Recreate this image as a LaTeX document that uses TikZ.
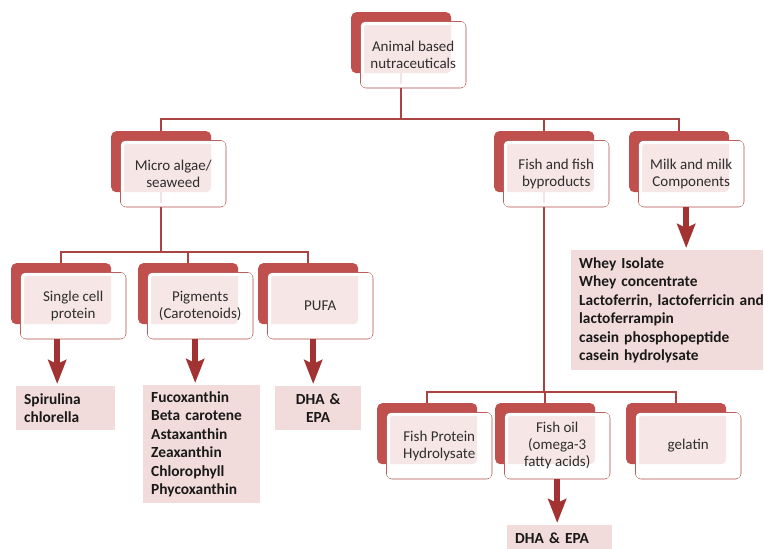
\documentclass[tikz,border=0pt]{standalone}
\usepackage{fontspec}
\setmainfont{Carlito}
\usetikzlibrary{arrows.meta}

\definecolor{cardred}{HTML}{C0504D}
\definecolor{rimred}{HTML}{B04A47}
\definecolor{linkred}{HTML}{A94442}
\definecolor{arrowred}{HTML}{A33333}
\definecolor{leafpink}{HTML}{F2DCDB}
\definecolor{cardtext}{HTML}{2E2E2E}

\pgfdeclarelayer{canvas}
\pgfdeclarelayer{links}
\pgfsetlayers{canvas,links,main}

\tikzset{
  backbox/.style={fill=cardred, rounded corners=5pt, minimum width=100pt,
    minimum height=61pt, inner sep=0pt, anchor=north west},
  frontbox/.style={draw=rimred, line width=1.4pt, fill=white, fill opacity=0.86,
    text opacity=1, rounded corners=6pt, minimum width=105pt, minimum height=66pt,
    inner sep=2pt, anchor=north west, align=center, text=cardtext,
    font=\fontsize{15}{16.8}\selectfont},
  leaf/.style={fill=leafpink, anchor=north west, inner xsep=8pt, inner ysep=3pt,
    font=\bfseries\fontsize{15.4}{18.5}\selectfont, text=black!90},
  link/.style={draw=linkred, line width=1.8pt},
  pointer/.style={draw=arrowred, line width=6.5pt,
    -{Stealth[length=24pt,width=18pt,inset=4pt]}, shorten >=2pt},
}

% a card: red block behind, translucent framed box in front
% #1 name, #2 #3 top-left of the red block, #4 label
\newcommand\cardpair[4]{%
  \node[backbox] (#1-b) at (#2,#3) {};
  \node[frontbox] (#1) at (#2+9,#3+9) {#4};
  \draw[white, line width=3.4pt, rounded corners=3pt]
    ([shift={(2.5pt,-2.5pt)}]#1.north west) rectangle ([shift={(-2.5pt,2.5pt)}]#1.south east);
}

\begin{document}
\begin{tikzpicture}[x=1pt, y=-1pt]
\useasboundingbox (0,0) rectangle (764,549);
\begin{pgfonlayer}{canvas}
  \fill[white] (0,0) rectangle (764,549);
\end{pgfonlayer}

% cards
\cardpair{root}{351}{12}{Animal based\\nutraceuticals}
\cardpair{micro}{111}{131}{Micro algae/\\seaweed}
\cardpair{fish}{494}{131}{Fish and fish\\byproducts}
\cardpair{milk}{629}{131}{Milk and milk\\Components}
\cardpair{single}{11}{263}{Single cell\\protein}
\cardpair{pig}{138}{263}{Pigments\\(Carotenoids)}
\cardpair{pufa}{258}{263}{PUFA}
\cardpair{fph}{377}{403}{Fish Protein\\Hydrolysate}
\cardpair{oil}{495}{403}{Fish oil\\(omega-3\\fatty acids)}
\cardpair{gel}{626}{403}{gelatin}

% product lists
\node[leaf, minimum width=99pt, minimum height=44pt, text width=83pt, align=left]
  (spir) at (16,386) {Spirulina\\chlorella};
\node[leaf, minimum width=117pt, minimum height=118pt, text width=101pt, align=left]
  (carot) at (143,385) {Fucoxanthin\\Beta carotene\\Astaxanthin\\Zeaxanthin\\Chlorophyll\\Phycoxanthin};
\node[leaf, minimum width=86pt, minimum height=44pt, text width=70pt, align=center]
  (dha1) at (275,386) {DHA \&\\EPA};
\node[leaf, minimum width=192pt, minimum height=120pt, text width=176pt, align=left]
  (whey) at (571,250) {Whey Isolate\\Whey concentrate\\\mbox{Lactoferrin, lactoferricin and}\\lactoferrampin\\casein phosphopeptide\\casein hydrolysate};
\node[leaf, minimum width=105pt, minimum height=26pt, text width=89pt, align=left]
  (dha2) at (507,525) {DHA \& EPA};

% tree connectors
\begin{pgfonlayer}{links}
  \coordinate (busA) at (0,119);
  \coordinate (busB) at (0,252);
  \coordinate (busC) at (0,392);
  \draw[link] (root-b.south) -- (root-b.south |- busA);
  \draw[link] (micro-b.north) -- (micro-b.north |- busA) -- (milk-b.north |- busA) -- (milk-b.north);
  \draw[link] (fish-b.north) -- (fish-b.north |- busA);
  \draw[link] (micro-b.south) -- (micro-b.south |- busB);
  \draw[link] (single-b.north) -- (single-b.north |- busB) -- (pufa-b.north |- busB) -- (pufa-b.north);
  \draw[link] (pig-b.north) -- (pig-b.north |- busB);
  \draw[link] (fish-b.south) -- (fish-b.south |- busC);
  \draw[link] (fph-b.north) -- (fph-b.north |- busC) -- (gel-b.north |- busC) -- (gel-b.north);
  \draw[link] (oil-b.north) -- (oil-b.north |- busC);
\end{pgfonlayer}

% arrows to product lists
\draw[pointer] ([xshift=-16pt]single.south) -- ([xshift=-16pt]single.south |- spir.north);
\draw[pointer] ([xshift=-5pt]pig.south) -- ([xshift=-5pt]pig.south |- carot.north);
\draw[pointer] ([xshift=-7pt]pufa.south) -- ([xshift=-7pt]pufa.south |- dha1.north);
\draw[pointer] (oil.south) -- (oil.south |- dha2.north);
\draw[pointer] ([xshift=-5pt]milk.south) -- ([xshift=-5pt]milk.south |- whey.north);
\end{tikzpicture}
\end{document}
